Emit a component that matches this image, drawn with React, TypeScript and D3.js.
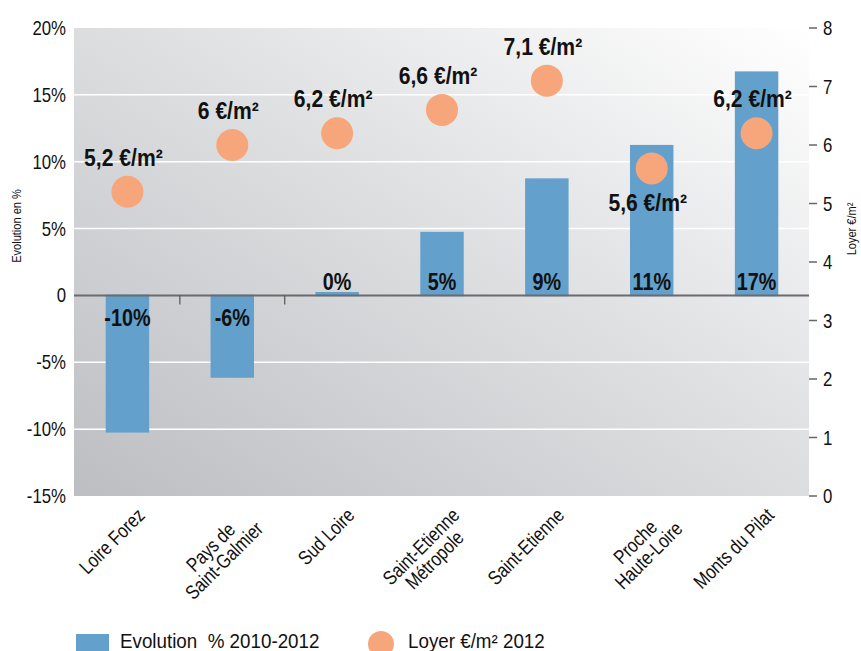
import React, { useEffect, useRef } from "react";
import * as d3 from "d3";

const categories = [
  "Loire Forez",
  "Pays de\nSaint-Galmier",
  "Sud Loire",
  "Saint-Etienne\nMétropole",
  "Saint-Etienne",
  "Proche\nHaute-Loire",
  "Monts du Pilat",
];
const evolution = [-10.2, -6.1, 0.2, 4.7, 8.7, 11.2, 16.7];
const evolutionLabels = ["-10%", "-6%", "0%", "5%", "9%", "11%", "17%"];
const loyer = [5.2, 6.0, 6.2, 6.6, 7.1, 5.6, 6.2];
const loyerLabels = ["5,2 €/m²", "6 €/m²", "6,2 €/m²", "6,6 €/m²", "7,1 €/m²", "5,6 €/m²", "6,2 €/m²"];
const loyerLabelBelow = [false, false, false, false, false, true, false];
const leftTicks = [20, 15, 10, 5, 0, -5, -10, -15];
const leftTickLabels = ["20%", "15%", "10%", "5%", "0", "-5%", "-10%", "-15%"];
const rightTicks = [0, 1, 2, 3, 4, 5, 6, 7, 8];
const legendLabels = ["Evolution  % 2010-2012", "Loyer €/m² 2012"];

const FONT = "'Liberation Sans', Arial, sans-serif";
const BLUE = "#63a0cb";
const ORANGE = "#f7a67b";

type Opt = { size: number; weight?: string; anchor?: string; sx?: number; rotate?: number };

function txt(parent: any, x: number, y: number, s: string, o: Opt) {
  const sx = o.sx ?? 1;
  return parent
    .append("text")
    .attr("transform", `translate(${x},${y})${o.rotate ? ` rotate(${o.rotate})` : ""} scale(${sx},1)`)
    .attr("text-anchor", o.anchor ?? "start")
    .attr("font-family", FONT)
    .attr("font-size", o.size)
    .attr("font-weight", o.weight ?? "normal")
    .attr("fill", "#111")
    .style("white-space", "pre")
    .text(s);
}

export default function App() {
  const ref = useRef<SVGSVGElement | null>(null);

  useEffect(() => {
    const svg = d3.select(ref.current);
    svg.selectAll("*").remove();
    const W = 861, H = 651;
    const x0 = 75, x1 = 809, yTop = 28, yBot = 496;

    const x = d3.scaleBand<string>().domain(categories).range([x0, x1]).paddingInner(0).paddingOuter(0);
    const yL = d3.scaleLinear().domain([-15, 20]).range([yBot, yTop]);
    const yR = d3.scaleLinear().domain([0, 8]).range([yBot, yTop]);
    const barW = x.bandwidth() * 0.4;
    const cx = (i: number) => x(categories[i])! + x.bandwidth() / 2;

    const defs = svg.append("defs");
    const grad = defs.append("linearGradient").attr("id", "bg").attr("x1", 0).attr("y1", 1).attr("x2", 1).attr("y2", 0);
    grad.append("stop").attr("offset", "0%").attr("stop-color", "#bdbec2");
    grad.append("stop").attr("offset", "55%").attr("stop-color", "#dfe0e2");
    grad.append("stop").attr("offset", "100%").attr("stop-color", "#ffffff");

    svg.append("rect").attr("x", 0).attr("y", 0).attr("width", W).attr("height", H).attr("fill", "#fff");
    svg.append("rect").attr("x", 74).attr("y", yTop).attr("width", x1 - 74).attr("height", yBot - yTop).attr("fill", "url(#bg)");

    // grid lines
    svg.append("g").selectAll("line").data(leftTicks.filter((t) => t !== 0 && t !== 20 && t !== -15)).join("line")
      .attr("x1", 74).attr("x2", x1).attr("y1", (d) => yL(d)).attr("y2", (d) => yL(d))
      .attr("stroke", "#ffffff").attr("stroke-width", 1.5);

    // bars
    svg.append("g").selectAll("rect").data(evolution).join("rect")
      .attr("x", (_, i) => cx(i) - barW / 2)
      .attr("width", barW)
      .attr("y", (d) => Math.min(yL(d), yL(0)))
      .attr("height", (d) => Math.abs(yL(d) - yL(0)))
      .attr("fill", BLUE).attr("stroke", BLUE).attr("stroke-width", 1.5);

    // zero line
    svg.append("line").attr("x1", 74).attr("x2", x1).attr("y1", yL(0)).attr("y2", yL(0))
      .attr("stroke", "#6b6b6d").attr("stroke-width", 2);

    // category ticks (visible ones)
    svg.append("g").selectAll("line").data([1, 2]).join("line")
      .attr("x1", (i) => x(categories[i])!).attr("x2", (i) => x(categories[i])!)
      .attr("y1", yL(0)).attr("y2", yL(0) + 9)
      .attr("stroke", "#555").attr("stroke-width", 1.2);

    // bar labels
    const bl = svg.append("g");
    evolution.forEach((d, i) => {
      txt(bl, cx(i), d < 0 ? yL(0) + 31 : yL(0) - 5, evolutionLabels[i], { size: 23, weight: "bold", anchor: "middle", sx: 0.86 });
    });

    // dots
    svg.append("g").selectAll("circle").data(loyer).join("circle")
      .attr("cx", (_, i) => cx(i))
      .attr("cy", (d) => yR(d))
      .attr("r", 16)
      .attr("fill", ORANGE);

    // dot labels
    const dl = svg.append("g");
    loyer.forEach((d, i) => {
      txt(dl, cx(i) - 4, loyerLabelBelow[i] ? yR(d) + 43 : yR(d) - 26, loyerLabels[i], { size: 24, weight: "bold", anchor: "middle", sx: 0.88 });
    });

    // left axis labels
    const la = svg.append("g");
    leftTicks.forEach((t, i) => {
      txt(la, 66, yL(t) + 7, leftTickLabels[i], { size: 20, anchor: "end", sx: 0.84 });
    });

    // right axis ticks & labels
    const rg = svg.append("g");
    rg.selectAll("line").data(rightTicks).join("line")
      .attr("x1", x1).attr("x2", x1 + 8).attr("y1", (d) => yR(d)).attr("y2", (d) => yR(d))
      .attr("stroke", "#666").attr("stroke-width", 1.5);
    rightTicks.forEach((t) => {
      txt(rg, 823, yR(t) + 7, String(t), { size: 20, sx: 0.84 });
    });

    // axis titles
    txt(svg, 21, 226, "Evolution en %", { size: 13, anchor: "middle", sx: 0.85, rotate: -90 });
    txt(svg, 856, 229, "Loyer €/m²", { size: 13, anchor: "middle", sx: 0.85, rotate: -90 });

    // category labels rotated -45
    const fs = 20, lh = 19, sxl = 0.82;
    categories.forEach((c, i) => {
      const lines = c.split("\n");
      const g = svg.append("g")
        .attr("transform", `translate(${cx(i) + 8},${yBot + 10}) rotate(-45) scale(${sxl},1)`);
      const texts = lines.map((ln, j) =>
        g.append("text").attr("y", fs * 0.75 + j * lh)
          .attr("font-family", FONT).attr("font-size", fs).attr("fill", "#111")
          .attr("text-anchor", "middle").text(ln)
      );
      const widths = texts.map((t) => (t.node() as SVGTextElement).getComputedTextLength());
      const maxW = Math.max(...widths);
      texts.forEach((t) => t.attr("x", -maxW / 2));
    });

    // legend
    svg.append("rect").attr("x", 76).attr("y", 634).attr("width", 33).attr("height", 18).attr("fill", BLUE);
    txt(svg, 120, 648, legendLabels[0], { size: 20, sx: 0.94 });
    svg.append("circle").attr("cx", 381).attr("cy", 644).attr("r", 13).attr("fill", ORANGE);
    txt(svg, 408, 648, legendLabels[1], { size: 20, sx: 0.94 });
  }, []);

  return (
    <svg
      ref={ref}
      width={861}
      height={651}
      style={{ position: "absolute", left: 0, top: 0, display: "block" }}
    />
  );
}
